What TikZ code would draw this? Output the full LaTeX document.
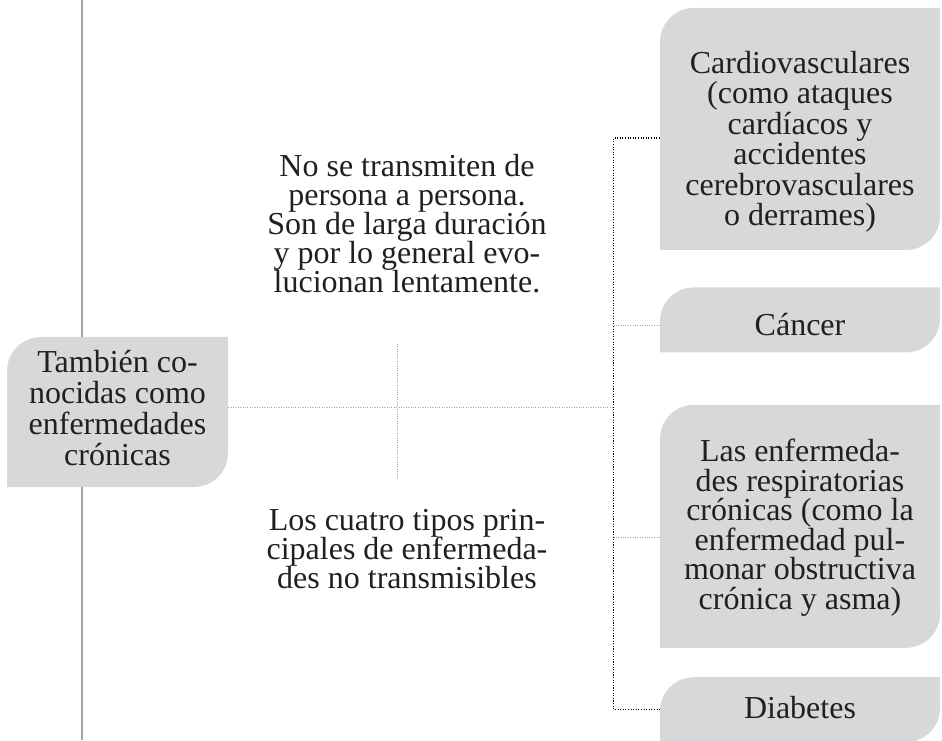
\documentclass[tikz,border=0pt]{standalone}
\usepackage{fontspec}
\setmainfont{Liberation Serif}
\usetikzlibrary{positioning}

\definecolor{leafgray}{HTML}{D7D8DA}
\definecolor{railgray}{HTML}{A3A4A8}
\definecolor{inkdark}{HTML}{231F20}
\setlength{\lineskiplimit}{-100pt}

\begin{document}
\begin{tikzpicture}[
    x=1pt, y=1pt,
    every node/.style={font=\fontsize{32}{30.5}\selectfont, text=inkdark},
    leaf/.style={align=center, inner sep=0pt, minimum width=280pt, text depth=0pt,
      path picture={\fill[leafgray] (path picture bounding box.south west)
        -- ([yshift=-34pt]path picture bounding box.north west)
        arc[start angle=180, end angle=90, radius=34pt]
        -- (path picture bounding box.north east)
        -- ([yshift=34pt]path picture bounding box.south east)
        arc[start angle=0, end angle=-90, radius=34pt] -- cycle;}},
    note/.style={align=center, inner sep=0pt, text height=0pt, text depth=0pt,
      font=\fontsize{32}{29}\selectfont},
    link/.style={railgray, line width=0.8pt, dash pattern=on 0.8pt off 1.6pt},
    brace/.style={black, line width=1.1pt, dash pattern=on 1.1pt off 1.5pt}
  ]
  \useasboundingbox (0,0) rectangle (942,740);
  \clip (0,0) rectangle (942,740);

  % --- Left rail ---
  \coordinate (railtop) at (82,740);
  \coordinate (railbot) at (82,0);
  \draw[railgray, line width=2pt] (railtop) -- (railbot);

  % --- Left box ---
  \node[leaf, minimum width=221pt, minimum height=150pt, text height=106pt,
    font=\fontsize{32}{31}\selectfont] (known) at (117.5,328)
    {También co-\\nocidas como\\enfermedades\\crónicas};

  % --- Right column ---
  \node[leaf, minimum height=242pt, text height=194pt] (cardio) at (800,611)
    {Cardiovasculares\\(como ataques\\cardíacos y\\accidentes\\cerebrovasculares\\o derrames)};
  \node[leaf, minimum height=65pt, text height=31pt, below=37pt of cardio] (cancer) {Cáncer};
  \node[leaf, minimum height=243pt, text height=166pt,
    font=\fontsize{32}{29.5}\selectfont, below=52pt of cancer] (resp)
    {Las enfermeda-\\des respiratorias\\crónicas (como la\\enfermedad pul-\\monar obstructiva\\crónica y asma)};
  \node[leaf, minimum height=65pt, text height=17pt, below=29pt of resp] (diab) {Diabetes};

  % --- Middle notes ---
  \node[note] (traits) at (407,447)
    {No se transmiten de\\persona a persona.\\Son de larga duración\\y por lo general evo-\\lucionan lentamente.};
  \node[note] (types) at (407,152)
    {Los cuatro tipos prin-\\cipales de enfermeda-\\des no transmisibles};

  % --- Connectors ---
  \coordinate (spine) at (614,333);
  \coordinate (hub) at (397,333);
  \draw[link] (known.east |- spine) -- (spine);
  \draw[link] ([yshift=63pt]hub) -- ([yshift=-73pt]hub);
  \draw[brace] ([yshift=-9pt]cardio.west) -- ++(-46pt,0) |- (diab.west);
  \draw[link] ([yshift=-5.5pt]cancer.west) -- ([yshift=-5.5pt]cancer.west -| spine);
  \draw[link] ([yshift=-11.5pt]resp.west) -- ([yshift=-11.5pt]resp.west -| spine);

\end{tikzpicture}
\end{document}
